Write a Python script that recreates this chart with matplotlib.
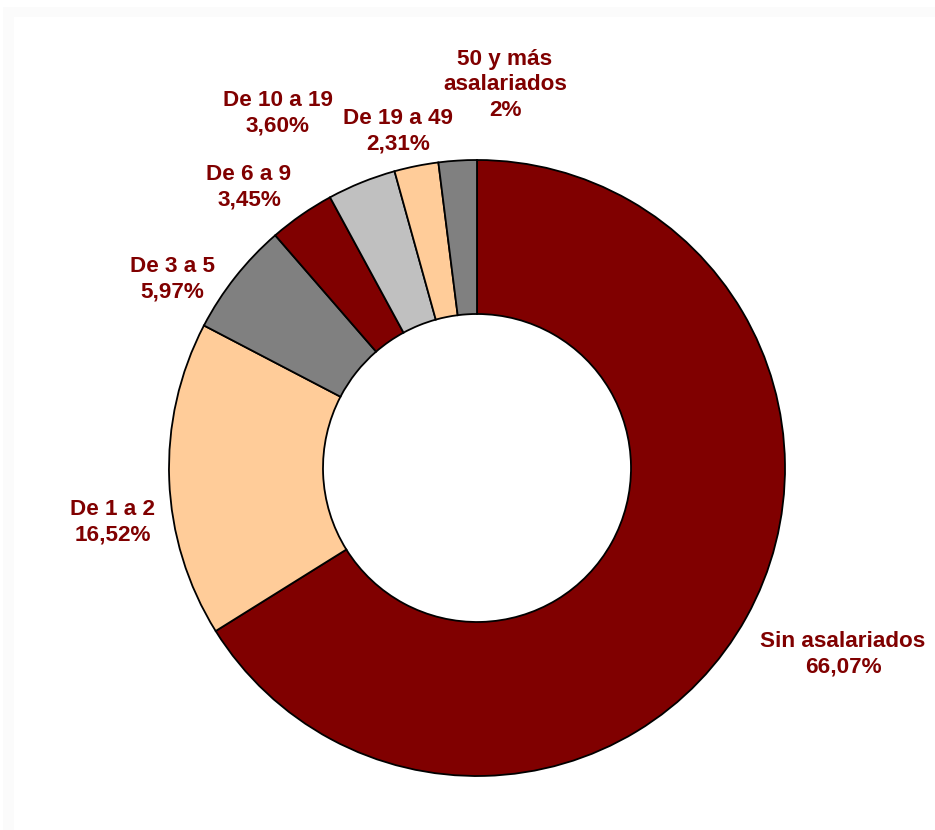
import matplotlib.pyplot as plt
from matplotlib.patches import Rectangle

# Distribución por tamaño (número de asalariados)
categories = ['Sin asalariados', 'De 1 a 2', 'De 3 a 5', 'De 6 a 9',
              'De 10 a 19', 'De 19 a 49', '50 y más\nasalariados']
values = [66.07, 16.52, 5.97, 3.45, 3.60, 2.31, 2]
value_labels = ['66,07%', '16,52%', '5,97%', '3,45%', '3,60%', '2,31%', '2%']

colors = ['#800000', '#FFCC99', '#808080', '#800000', '#C0C0C0', '#FFCC99', '#808080']
text_color = '#800000'

# label centres in pixel units (figure is 935 x 830, y measured from the top)
label_pos = [(843, 654), (113, 522), (172, 279), (249, 187),
             (278, 113), (398, 131), (505, 85)]

W, H = 935, 830
fig = plt.figure(figsize=(W / 100, H / 100), dpi=100)
fig.patch.set_facecolor('white')

# faint band along the top and left edge
fig.patches.append(Rectangle((3 / W, 0), 11 / W, 1 - 7 / H, transform=fig.transFigure,
                             facecolor='#fbfbfb', edgecolor='none', zorder=0))
fig.patches.append(Rectangle((3 / W, 1 - 17 / H), 1, 10 / H, transform=fig.transFigure,
                             facecolor='#fbfbfb', edgecolor='none', zorder=0))

ax = fig.add_axes([0, 0, 1, 1])
ax.set_xlim(0, W)
ax.set_ylim(0, H)
ax.set_aspect('equal')
ax.axis('off')
ax.patch.set_alpha(0)

outer_r = 308
ax.pie(values, colors=colors, startangle=90, counterclock=False,
       center=(477, H - 468), radius=outer_r,
       wedgeprops=dict(width=outer_r * 0.5, edgecolor='black', linewidth=1.3))
ax.set_xlim(0, W)
ax.set_ylim(0, H)

for cat, val, (px, py) in zip(categories, value_labels, label_pos):
    ax.text(px, H - py, cat + '\n' + val, ha='center', va='center',
            color=text_color, fontsize=16.2, fontweight='bold',
            family='Liberation Sans', linespacing=1.3)

fig.savefig('out.png', dpi=100)
